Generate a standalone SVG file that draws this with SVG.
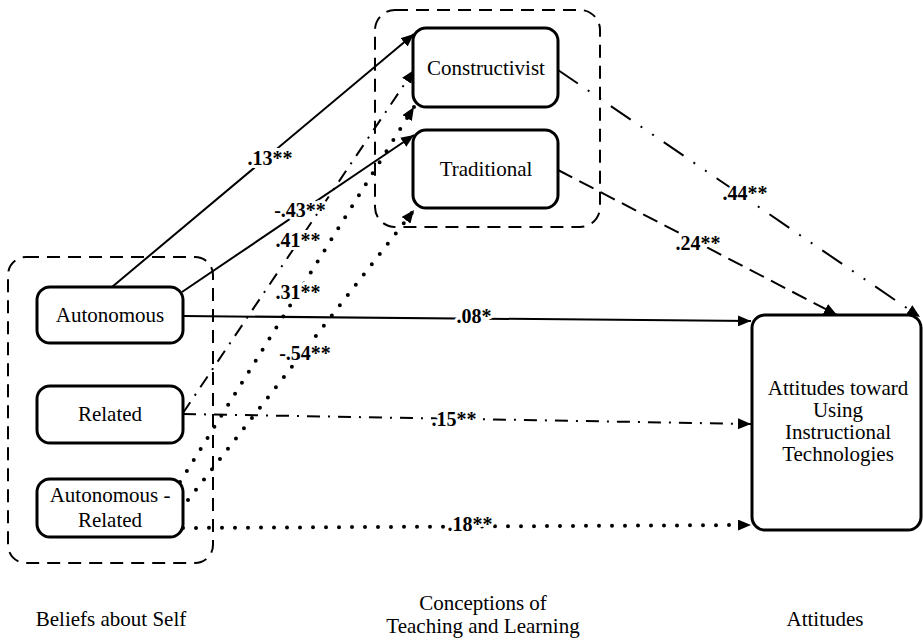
<svg xmlns="http://www.w3.org/2000/svg" width="923" height="641" viewBox="0 0 923 641" font-family="Liberation Serif, Times New Roman, serif">
<style>
.node{fill:#fff;stroke:#000;stroke-width:3}
.grp{fill:none;stroke:#000;stroke-width:2;stroke-dasharray:13,8}
.t{font-size:21px;fill:#000;text-anchor:middle}
.lbl{font-size:20px;font-weight:bold;text-anchor:middle;stroke:#fff;stroke-width:6;stroke-linejoin:round;paint-order:stroke;fill:#000}
.c{fill:none;stroke:#000;stroke-width:2}
.dd{stroke-dasharray:13,8,2,8}
.ddd{stroke-dasharray:24,12,2,12,2,12}
.dash{stroke-dasharray:16,8}
.dot{stroke-width:4;stroke-linecap:round;stroke-dasharray:0,13}
</style>
<defs>
<marker id="ah" markerUnits="userSpaceOnUse" markerWidth="13" markerHeight="11" refX="13" refY="5.5" orient="auto">
<path d="M0,0 L13,5.5 L0,11 z" fill="#000"/>
</marker>
</defs>
<rect width="923" height="641" fill="#fff"/>
<g id="connectors">
<path class="c" d="M112,287 L414,34" marker-end="url(#ah)"/>
<path class="c" d="M182,292 L414,135" marker-end="url(#ah)"/>
<path class="c dd" d="M183,413 L414,70" marker-end="url(#ah)"/>
<path class="c dot" d="M180,482 L414,107" marker-end="url(#ah)"/>
<path class="c dot" d="M188,500 L414,210" marker-end="url(#ah)"/>
<path class="c" d="M183,316 L751,321" marker-end="url(#ah)"/>
<path class="c dd" d="M183,414 L751,424" marker-end="url(#ah)"/>
<path class="c dot" d="M183,528 L751,525" marker-end="url(#ah)"/>
<path class="c ddd" d="M558,70 L920,317" marker-end="url(#ah)"/>
<path class="c dash" d="M558,170 L837,315" marker-end="url(#ah)"/>
</g>
<g id="groups">
<rect id="grp-beliefs" class="grp" x="8" y="257" width="205" height="306" rx="18"/>
<rect id="grp-conceptions" class="grp" x="375" y="10" width="225" height="217" rx="20"/>
</g>
<g id="constructivist">
<rect class="node" x="413" y="28" width="145" height="79" rx="13"/>
<text class="t" x="486" y="75" font-family="Liberation Serif, serif">Constructivist</text>
</g>
<g id="traditional">
<rect class="node" x="413" y="130" width="145" height="78" rx="13"/>
<text class="t" x="486" y="176">Traditional</text>
</g>
<g id="autonomous">
<rect class="node" x="37" y="287" width="146" height="56" rx="13"/>
<text class="t" x="110" y="322">Autonomous</text>
</g>
<g id="related">
<rect class="node" x="37" y="386" width="146" height="57" rx="13"/>
<text class="t" x="110" y="421">Related</text>
</g>
<g id="autonomous-related">
<rect class="node" x="37" y="479" width="146" height="58" rx="13"/>
<text class="t" x="110" y="502">Autonomous -</text>
<text class="t" x="110" y="527">Related</text>
</g>
<g id="attitudes-box">
<rect class="node" x="752" y="315" width="169" height="215" rx="13"/>
<text class="t" x="838" y="395">Attitudes toward</text>
<text class="t" x="838" y="417">Using</text>
<text class="t" x="838" y="439">Instructional</text>
<text class="t" x="838" y="461">Technologies</text>
</g>
<g id="labels">
<text class="lbl" x="270" y="165">.13**</text>
<text class="lbl" x="300" y="217">-.43**</text>
<text class="lbl" x="298" y="247">.41**</text>
<text class="lbl" x="298" y="299">.31**</text>
<text class="lbl" x="305" y="360">-.54**</text>
<text class="lbl" x="474" y="323">.08*</text>
<text class="lbl" x="454" y="426">.15**</text>
<text class="lbl" x="470" y="531">.18**</text>
<text class="lbl" x="745" y="200">.44**</text>
<text class="lbl" x="698" y="250">.24**</text>
</g>
<g id="captions">
<text class="t" x="111" y="626">Beliefs about Self</text>
<text class="t" x="483" y="610">Conceptions of</text>
<text class="t" x="483" y="633">Teaching and Learning</text>
<text class="t" x="825" y="626">Attitudes</text>
</g>
</svg>
